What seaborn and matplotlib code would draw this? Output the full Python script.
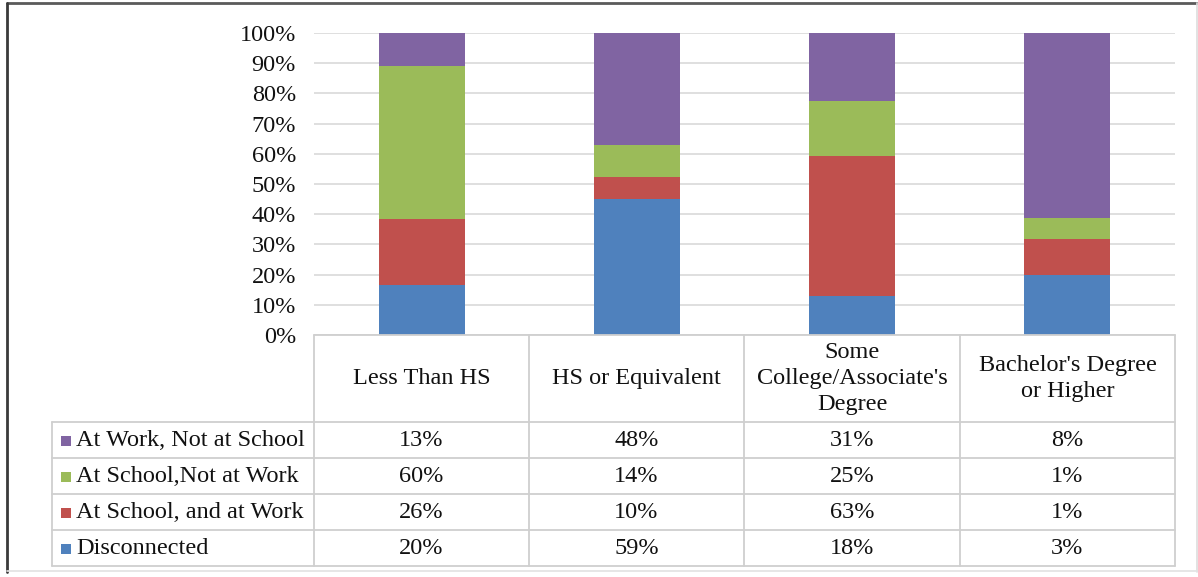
import matplotlib
matplotlib.use("Agg")
import matplotlib.pyplot as plt
import seaborn as sns
import pandas as pd
import numpy as np

# Education categories (columns of the data table)
categories = ["Less Than HS", "HS or Equivalent",
              "Some\nCollege/Associate's\nDegree",
              "Bachelor's Degree\nor Higher"]

# Series names, listed top to bottom as in the table
series = ["At Work, Not at School", "At School,Not at Work",
          "At School, and at Work", "Disconnected"]

# Table values (share of each group falling in each education level, %)
work_not_school = [13, 48, 31, 8]
school_not_work = [60, 14, 25, 1]
school_and_work = [26, 10, 63, 1]
disconnected = [20, 59, 18, 3]

# Stacked bar shares within each education level (%)
bar_disconnected = [16.5, 45.0, 12.8, 19.8]
bar_school_and_work = [21.9, 7.2, 46.4, 11.9]
bar_school_not_work = [50.7, 10.6, 18.2, 6.9]
bar_work_not_school = [10.9, 37.2, 22.6, 61.4]

colors = {"At Work, Not at School": "#8064A2",
          "At School,Not at Work": "#9BBB59",
          "At School, and at Work": "#C0504D",
          "Disconnected": "#4F81BD"}

sns.set_theme(style="white")
plt.rcParams["font.family"] = ["Liberation Serif", "DejaVu Serif"]

W, H = 1198, 577
fig = plt.figure(figsize=(W / 100, H / 100), dpi=100)

def fx(px):
    return px / W

def fy(py):
    return 1 - py / H

# Bar chart area
x0, x1, y_top, y_bot = 314, 1175, 33, 335
ax = fig.add_axes([fx(x0), fy(y_bot), fx(x1) - fx(x0), fy(y_top) - fy(y_bot)])

bars = pd.DataFrame({
    "cat": categories,
    "Disconnected": bar_disconnected,
    "At School, and at Work": bar_school_and_work,
    "At School,Not at Work": bar_school_not_work,
    "At Work, Not at School": bar_work_not_school,
})
stack_order = ["Disconnected", "At School, and at Work",
               "At School,Not at Work", "At Work, Not at School"]
cum = bars[stack_order].cumsum(axis=1)

# Draw cumulative totals from the tallest down so each layer shows its own segment
for name in reversed(stack_order):
    df = pd.DataFrame({"cat": categories, "val": cum[name]})
    sns.barplot(data=df, x="cat", y="val", color=colors[name], width=0.4,
                saturation=1, ax=ax, zorder=3, edgecolor="none")

ax.set_xlim(-0.5, 3.5)
ax.set_ylim(0, 100)
ax.set_yticks(np.arange(0, 101, 10))
ax.set_yticklabels([f"{v}%" for v in range(0, 101, 10)], fontsize=17.5,
                   color="#111111")
ax.tick_params(axis="y", length=0, pad=13)
ax.set_xticks([])
ax.set_xlabel("")
ax.set_ylabel("")
for s in ax.spines.values():
    s.set_visible(False)
ax.grid(axis="y", color="#D9D9D9", linewidth=1.2, zorder=0)
ax.set_axisbelow(True)

# Data table beneath the bars
tab = fig.add_axes([0, 0, 1, 1], facecolor="none")
tab.set_xlim(0, W)
tab.set_ylim(H, 0)
tab.axis("off")

line_c = "#CFCFCF"
col_edges = [314, 529, 744, 960, 1175]
leg_left = 52
hdr_top, hdr_bot = 335, 422
row_edges = [422, 458, 494, 530, 566]

tab.plot([col_edges[0], col_edges[-1]], [hdr_top, hdr_top], color=line_c, lw=1.3)
for yv in row_edges:
    tab.plot([leg_left, col_edges[-1]], [yv, yv], color=line_c, lw=1.3)
for xv in col_edges:
    tab.plot([xv, xv], [hdr_top, row_edges[-1]], color=line_c, lw=1.3)
tab.plot([leg_left, leg_left], [row_edges[0], row_edges[-1]], color=line_c, lw=1.3)

for i, cat in enumerate(categories):
    cx = (col_edges[i] + col_edges[i + 1]) / 2
    tab.text(cx, (hdr_top + hdr_bot) / 2, cat, ha="center", va="center",
             fontsize=17.5, linespacing=1.3, color="#111111")

table_rows = [work_not_school, school_not_work, school_and_work, disconnected]
for r, (name, vals) in enumerate(zip(series, table_rows)):
    cy = (row_edges[r] + row_edges[r + 1]) / 2 + 1
    tab.add_patch(plt.Rectangle((61, cy - 5), 10, 10, color=colors[name], lw=0))
    tab.text(76, cy, name, ha="left", va="center", fontsize=17.5, color="#111111")
    for i, v in enumerate(vals):
        cx = (col_edges[i] + col_edges[i + 1]) / 2
        tab.text(cx, cy, f"{v}%", ha="center", va="center", fontsize=17.5,
                 color="#111111")

# Outer frame
tab.plot([7, 1197], [3, 3], color="#5a5a5a", lw=2)
tab.plot([7, 7], [3, 572], color="#3a3a3a", lw=2)
tab.plot([1197, 1197], [3, 572], color="#DDDDDD", lw=1.2)
tab.plot([7, 1197], [571, 571], color="#E2E2E2", lw=1.2)

fig.savefig("out.png", dpi=100, facecolor="white")
